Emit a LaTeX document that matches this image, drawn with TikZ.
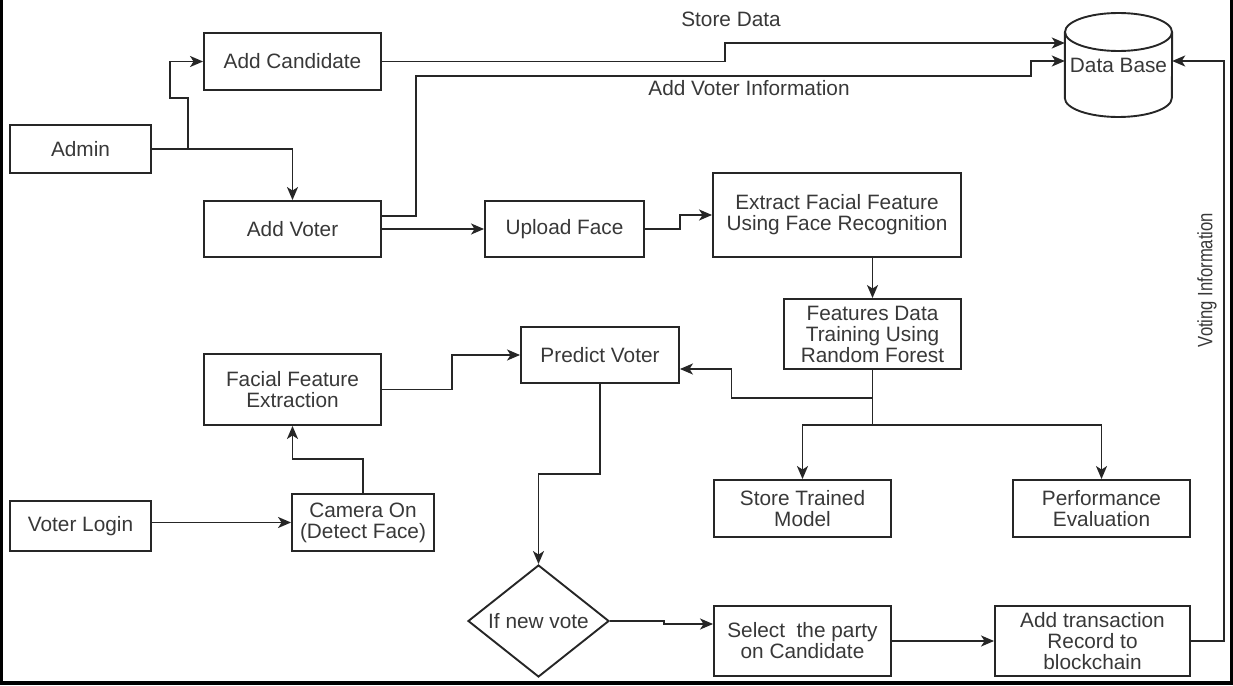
\documentclass[tikz,border=0pt]{standalone}
\usepackage{fontspec}
\setmainfont{Liberation Sans}
\usetikzlibrary{shapes.geometric,arrows.meta,calc}
\begin{document}
\begin{tikzpicture}[x=1pt,y=-1pt,
  font=\fontsize{20.8}{21}\selectfont,
  every node/.style={text=black!78},
  ln/.style={draw=black!85,line width=1.9pt},
  box/.style={ln,rectangle,align=center,inner sep=0pt},
  arr/.style={ln,-{Stealth[length=13pt,width=11pt,inset=3.5pt]}},
  lbl/.style={inner sep=0pt}]
\useasboundingbox (0,0) rectangle (1233,685);
% frame
\fill[black] (0,0) rectangle (3,685);
\fill[black] (1230,0) rectangle (1233,685);
\fill[black] (0,681) rectangle (1233,685);

% nodes
\node[box,minimum width=141pt,minimum height=48pt] (admin) at (80.5,149) {Admin};
\node[box,minimum width=177pt,minimum height=57pt] (cand) at (292.5,61.5) {Add Candidate};
\node[box,minimum width=177pt,minimum height=56pt] (voter) at (292.5,229) {Add Voter};
\node[box,minimum width=159pt,minimum height=56pt] (upload) at (564.5,229) {Upload Face};
\node[box,minimum width=248pt,minimum height=84pt] (extract) at (837,215) {Extract Facial Feature\\Using Face Recognition};
\node[box,minimum width=177pt,minimum height=70pt] (train) at (872.5,334) {Features Data\\Training Using\\Random Forest};
\node[box,minimum width=158pt,minimum height=56pt] (predict) at (600,355) {Predict Voter};
\node[box,minimum width=177pt,minimum height=71pt] (ffe) at (292.5,389.5) {Facial Feature\\Extraction};
\node[box,minimum width=141pt,minimum height=50pt] (login) at (80.5,526) {Voter Login};
\node[box,minimum width=142pt,minimum height=57pt] (camera) at (363,522.5) {Camera On\\(Detect Face)};
\node[box,minimum width=177pt,minimum height=57pt] (store) at (802.5,508.5) {Store Trained\\Model};
\node[box,minimum width=177pt,minimum height=57pt] (perf) at (1101.5,508.5) {Performance\\Evaluation};
\node[ln,diamond,aspect=1.26,inner sep=0pt,minimum width=141pt,minimum height=112pt] (dia) at (538.5,621) {If new vote};
\node[box,minimum width=177pt,minimum height=70pt] (select) at (802.5,641) {Select~ the party\\on Candidate};
\node[box,minimum width=195pt,minimum height=70pt] (trans) at (1092.5,641) {Add transaction\\Record to\\blockchain};

% database cylinder
\node[inner sep=0pt,minimum width=107pt,minimum height=104pt] (db) at (1118.5,65) {Data Base};
\draw[ln] (db.west |- 0,32) -- (db.west |- 0,98)
  arc[start angle=180,end angle=360,x radius=53.5pt,y radius=19pt]
  -- (db.east |- 0,32);
\draw[ln] (1118.5,32) ellipse[x radius=53.5pt,y radius=19pt];

% labels
\node[lbl] (lstore) at (731,19) {Store Data};
\node[lbl] (lvoter) at (749,88) {Add Voter Information};
\node[lbl,rotate=90] (lvote) at (1207,280) {\scalebox{0.8}[1]{Voting Information}};

% connectors
\draw[arr] (admin.east) -- ++(36,0) -- ++(0,-51) -- ++(-18,0) |- (cand.west);
\draw[arr] (admin.east) -| (voter.north);
\draw[arr] (cand.east) -- ++(343,0) |- ($(db.west)+(0,-22)$);
\draw[arr] ($(voter.east)+(0,-13)$) -- ++(34,0) -- ++(0,-140) -- ++(615,0) |- ($(db.west)+(0,-4)$);
\draw[arr] (voter.east) -- (upload.west);
\draw[arr] (upload.east) -- ++(35,0) |- (extract.west);
\draw[arr] (train.north |- extract.south) -- (train.north);
\draw[arr] (train.south) -- ++(0,28) -- ++(-141,0) |- ($(predict.east)+(0,14)$);
\draw[arr] (train.south) -- ++(0,55) -| (store.north);
\draw[arr] (train.south) -- ++(0,55) -| (perf.north);
\draw[arr] (ffe.east) -- ++(70,0) |- (predict.west);
\draw[arr] (login.east |- camera.west) -- (camera.west);
\draw[arr] (camera.north) -- ++(0,-34) -| (ffe.south);
\draw[arr] (predict.south) -- ++(0,90) -| (dia.north);
\draw[arr] (dia.east) -- ++(54,0) |- ($(select.west)+(0,-17)$);
\draw[arr] (select.east) -- (trans.west);
\draw[arr] (trans.east) -- ++(33,0) |- ($(db.east)+(0,-4)$);
\end{tikzpicture}
\end{document}
